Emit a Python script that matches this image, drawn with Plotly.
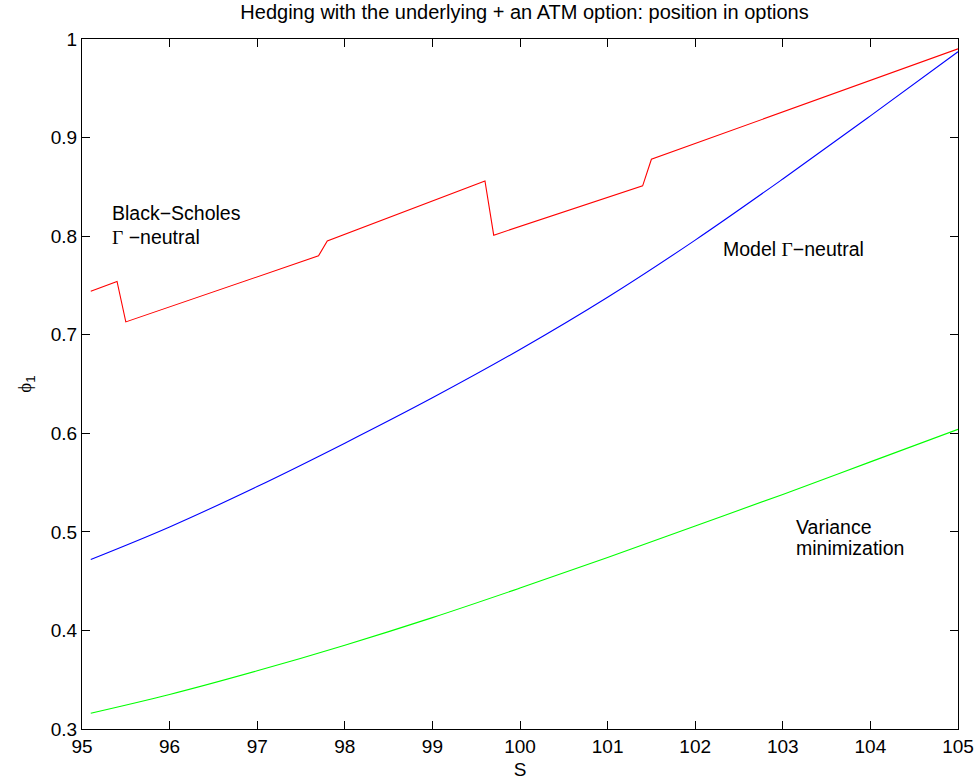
import plotly.graph_objects as go

# Spot prices S and option positions phi_1 for the three hedging strategies
s_bs = [95.1, 95.4, 95.5, 97.7, 97.8, 99.6, 99.7, 101.4, 101.5, 105.0]
phi_bs = [0.744, 0.754, 0.713, 0.780, 0.795, 0.856, 0.801, 0.851, 0.878, 0.990]

s_model = [95.1, 96, 97, 98, 99, 100, 101, 102, 103, 104, 105]
phi_model = [0.472, 0.505, 0.546, 0.590, 0.636, 0.685, 0.738, 0.796, 0.858, 0.922, 0.987]

s_var = [95.1, 96, 97, 98, 99, 100, 101, 102, 103, 104, 105]
phi_var = [0.316, 0.335, 0.359, 0.385, 0.413, 0.443, 0.474, 0.506, 0.538, 0.571, 0.604]

x_ticks = [95, 96, 97, 98, 99, 100, 101, 102, 103, 104, 105]
y_ticks = [0.3, 0.4, 0.5, 0.6, 0.7, 0.8, 0.9, 1.0]
y_tick_text = ["0.3", "0.4", "0.5", "0.6", "0.7", "0.8", "0.9", "1"]

FONT = "Liberation Sans, Arial, Helvetica, sans-serif"
GREEK = "<span style='font-family:Liberation Serif, Times New Roman, serif'>{}</span>"

fig = go.Figure()
fig.add_trace(go.Scatter(x=s_bs, y=phi_bs, mode="lines",
                         line=dict(color="#ff0000", width=1.1), showlegend=False))
fig.add_trace(go.Scatter(x=s_model, y=phi_model, mode="lines", line_shape="spline",
                         line=dict(color="#0000ff", width=1.1), showlegend=False))
fig.add_trace(go.Scatter(x=s_var, y=phi_var, mode="lines", line_shape="spline",
                         line=dict(color="#00ff00", width=1.1), showlegend=False))

labels = [
    (95.32, 0.823, "Black−Scholes"),
    (95.32, 0.799, GREEK.format("Γ") + " −neutral"),
    (102.29, 0.787, "Model " + GREEK.format("Γ") + "−neutral"),
    (103.13, 0.505, "Variance"),
    (103.13, 0.4836, "minimization"),
]
for x, y, t in labels:
    fig.add_annotation(x=x, y=y, text=t, showarrow=False, xanchor="left",
                       yanchor="middle", font=dict(family=FONT, size=19.5, color="black"))

axis_common = dict(showline=True, linecolor="black", linewidth=1, mirror="ticks",
                   ticks="inside", ticklen=8, tickcolor="black", tickwidth=1,
                   showgrid=False, zeroline=False, automargin=False,
                   tickfont=dict(family=FONT, size=19, color="black"))

fig.update_xaxes(range=[95, 105], tickvals=x_ticks,
                 title=dict(text="S", font=dict(family=FONT, size=19, color="black"),
                            standoff=6),
                 **axis_common)
fig.update_yaxes(range=[0.3, 1.0], tickvals=y_ticks, ticktext=y_tick_text,
                 title=dict(text=GREEK.format("ϕ") + "<sub>1</sub>",
                            font=dict(family=FONT, size=19, color="black"),
                            standoff=14),
                 **axis_common)

fig.update_layout(
    width=978, height=781,
    margin=dict(l=82, r=20, t=39, b=52),
    paper_bgcolor="white", plot_bgcolor="white",
    title=dict(text="Hedging with the underlying + an ATM option: position in options",
               x=0.5363, xanchor="center", y=1 - 12 / 781, yanchor="middle",
               font=dict(family=FONT, size=20, color="black")),
)

fig.write_html("out.html")
